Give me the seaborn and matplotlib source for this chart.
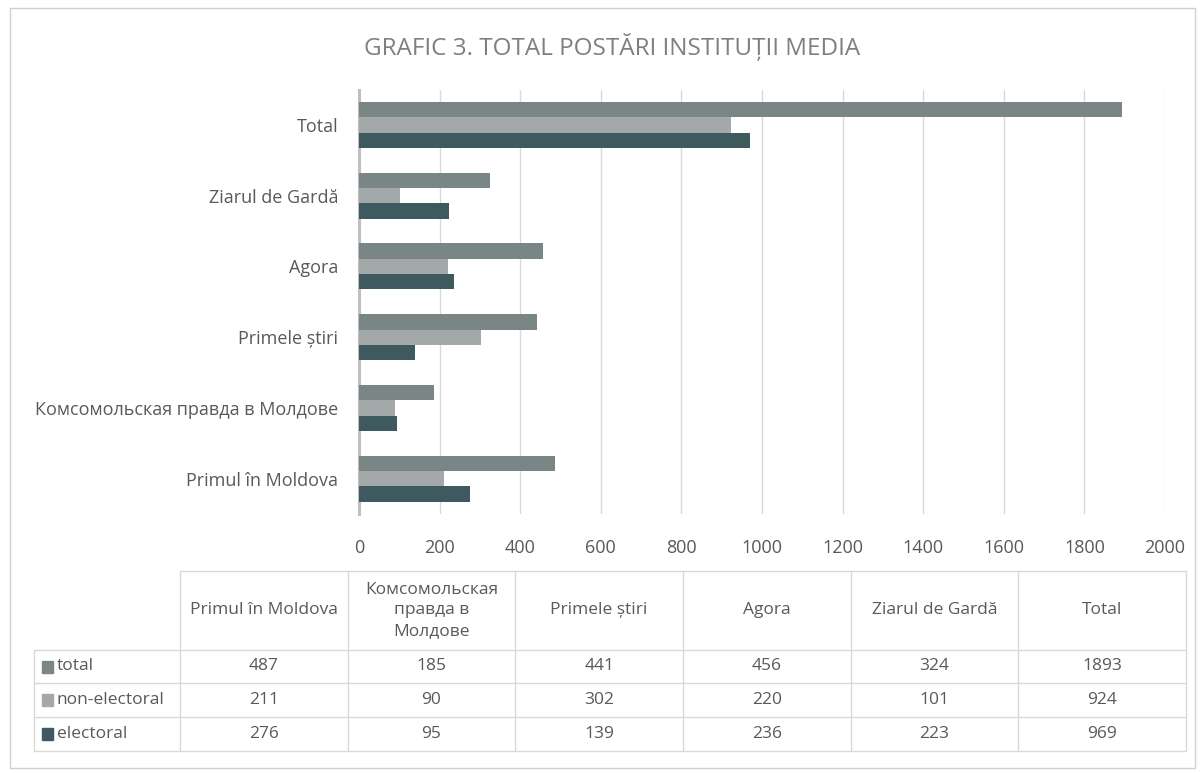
import matplotlib
matplotlib.use("Agg")
import matplotlib.pyplot as plt
from matplotlib.patches import Rectangle
import seaborn as sns
import pandas as pd

outlets = ["Primul în Moldova", "Комсомольская правда в Молдове", "Primele știri",
           "Agora", "Ziarul de Gardă", "Total"]
header_labels = ["Primul în Moldova", "Комсомольская\nправда в\nМолдове", "Primele știri",
                 "Agora", "Ziarul de Gardă", "Total"]
series_names = ["total", "non-electoral", "electoral"]
total = [487, 185, 441, 456, 324, 1893]
non_electoral = [211, 90, 302, 220, 101, 924]
electoral = [276, 95, 139, 236, 223, 969]
series_colors = ["#7a8585", "#a3a8a9", "#3f5a5e"]
x_ticks = list(range(0, 2001, 200))

sns.set_style("white")
plt.rcParams['font.family'] = ['Open Sans', 'DejaVu Sans']
txt = "#595959"

rows = []
for name, vals in zip(series_names, [total, non_electoral, electoral]):
    for o, v in zip(outlets, vals):
        rows.append({"outlet": o, "series": name, "value": v})
df = pd.DataFrame(rows)

W, H = 1204, 773
fig = plt.figure(figsize=(W / 100, H / 100), dpi=100)
ax = fig.add_axes([359 / W, 1 - 514 / H, (1165 - 359) / W, (514 - 89.6) / H])

sns.barplot(data=df, y="outlet", x="value", hue="series", order=outlets[::-1],
            hue_order=series_names, palette=series_colors, saturation=1,
            width=0.65, gap=0, ax=ax, legend=False, zorder=3,
            linewidth=0, edgecolor="none")

ax.set_xlim(0, 2000)
ax.set_xticks(x_ticks)
ax.set_xlabel("")
ax.set_ylabel("")
ax.grid(axis="x", color="#d9d9d9", lw=1, zorder=0)
ax.set_axisbelow(True)
for s in ["top", "right", "bottom"]:
    ax.spines[s].set_visible(False)
ax.spines["left"].set_color("#bfbfbf")
ax.spines["left"].set_linewidth(2.2)
ax.tick_params(axis="x", length=0, pad=18, labelsize=13, labelcolor=txt)
ax.tick_params(axis="y", length=0, pad=15, labelsize=13, labelcolor=txt)

# overlay in pixel coordinates for title, frame and data table
ov = fig.add_axes([0, 0, 1, 1])
ov.set_xlim(0, W)
ov.set_ylim(H, 0)
ov.axis("off")

ov.add_patch(Rectangle((10, 8), 1185, 760, fill=False, edgecolor="#d0d0d0", lw=1))
ov.text(612, 47, "GRAFIC 3. TOTAL POSTĂRI INSTITUȚII MEDIA", ha="center", va="center",
        fontsize=17.5, color="#7f7f7f")

grid_c = "#d9d9d9"
col_x = [180 + i * (1186 - 180) / 6 for i in range(7)]
row_y = [571, 650, 683, 717, 751]
ov.plot([col_x[0], col_x[-1]], [row_y[0], row_y[0]], color=grid_c, lw=1)
for y in row_y[1:]:
    ov.plot([34, col_x[-1]], [y, y], color=grid_c, lw=1)
ov.plot([34, 34], [row_y[1], row_y[-1]], color=grid_c, lw=1)
for x in col_x:
    ov.plot([x, x], [row_y[0], row_y[-1]], color=grid_c, lw=1)

for i, lab in enumerate(header_labels):
    cx = (col_x[i] + col_x[i + 1]) / 2
    ov.text(cx, (row_y[0] + row_y[1]) / 2, lab, ha="center", va="center",
            fontsize=12.5, color=txt, linespacing=1.35)

for r, (name, vals, c) in enumerate(zip(series_names, [total, non_electoral, electoral],
                                        series_colors)):
    cy = (row_y[r + 1] + row_y[r + 2]) / 2
    ov.add_patch(Rectangle((42, cy - 6), 11, 12, color=c))
    ov.text(57, cy, name, ha="left", va="center", fontsize=12.5, color=txt)
    for i, v in enumerate(vals):
        cx = (col_x[i] + col_x[i + 1]) / 2
        ov.text(cx, cy, str(v), ha="center", va="center", fontsize=12.5, color=txt)

fig.savefig("out.png", dpi=100, facecolor="white")
